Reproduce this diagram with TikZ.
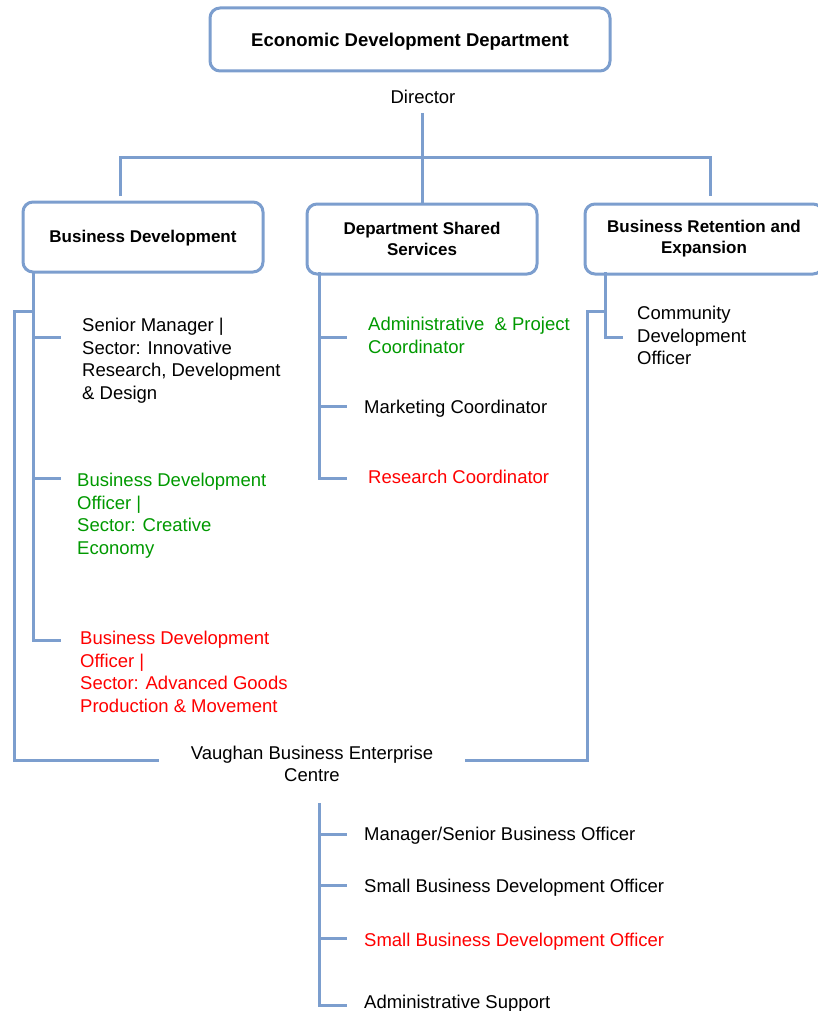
\documentclass[tikz,border=0pt]{standalone}
\usepackage{fontspec}
\setmainfont{Liberation Sans}
\definecolor{lineblue}{RGB}{124,158,206}
\definecolor{postgreen}{RGB}{0,153,0}
\definecolor{postred}{RGB}{255,0,0}
\tikzset{
  orgline/.style={draw=lineblue, line width=3pt},
  unitbox/.style={draw=lineblue, line width=3pt, rounded corners=10pt, fill=white,
    align=center, font=\fontsize{17}{21}\selectfont\bfseries},
  post/.style={anchor=north west, align=left, inner sep=0pt,
    font=\fontsize{18.5}{22.6}\selectfont}
}
\begin{document}
\begin{tikzpicture}[x=1pt, y=-1pt]
\useasboundingbox (0,0) rectangle (818,1011);

%Department and Director
\node [unitbox, font=\fontsize{18.5}{21}\selectfont\bfseries, minimum width=400pt, minimum height=63pt, text height=18pt] (edd) at (410,39.5) {Economic Development Department};
\node [post, anchor=center] (dir) at (423,97) {Director};
\coordinate (dirfoot) at (422,113);
\coordinate (bus) at (422,158);

%Branch boxes
\node [unitbox, minimum width=240pt, minimum height=70pt, text depth=2pt] (bd) at (143,237) {Business Development};
\node [unitbox, minimum width=230pt, minimum height=70pt] (dss) at (422,239) {Department Shared\\Services};
\node [unitbox, minimum width=238pt, minimum height=70pt] (bre) at (704,239) {Business Retention and\\Expansion};
\coordinate (bdtop) at (120,196);
\coordinate (bretop) at (710,196);

\draw [orgline] (dirfoot) -- (dss.north);
\draw [orgline] (bdtop) -- (bdtop |- bus) -- (bretop |- bus) -- (bretop);

%Business Development posts
\node [post] (srm) at (82,318) {Senior Manager |\\Sector: Innovative\\Research, Development\\\& Design};
\node [post, text=postgreen] (bdo1) at (77,473) {Business Development\\Officer |\\Sector: Creative\\Economy};
\node [post, text=postred] (bdo2) at (80,631) {Business Development\\Officer |\\Sector: Advanced Goods\\Production \& Movement};
\coordinate (bdstem) at (33,272);
\coordinate (bdjoin) at (14,311);
\foreach \n/\y in {a/337,b/478,c/640}
  \coordinate (bdtick\n) at (61,\y);
\draw [orgline] (bdstem) |- (bdtickc);
\foreach \n in {a,b}
  \draw [orgline] (bdstem |- bdtick\n) -- (bdtick\n);

%Shared Services posts
\node [post, text=postgreen] (apc) at (368,317) {Administrative \ \& Project\\Coordinator};
\node [post] (mkc) at (364,400) {Marketing Coordinator};
\node [post, text=postred] (rsc) at (368,470) {Research Coordinator};
\coordinate (dssstem) at (319,272);
\foreach \n/\y in {a/337,b/406,c/478}
  \coordinate (dsstick\n) at (347,\y);
\draw [orgline] (dssstem) |- (dsstickc);
\foreach \n in {a,b}
  \draw [orgline] (dssstem |- dsstick\n) -- (dsstick\n);

%Retention and Expansion posts
\node [post] (cdo) at (637,306) {Community\\Development\\Officer};
\coordinate (brestem) at (605,272);
\coordinate (brejoin) at (587,311);
\coordinate (bretick) at (623,337);
\draw [orgline] (brestem) |- (bretick);

%Enterprise Centre
\node [post, anchor=center, align=center, inner xsep=32pt] (vbec) at (312,764) {Vaughan Business Enterprise\\Centre};
\draw [orgline] (bdstem |- bdjoin) -- (bdjoin) |- ([yshift=4pt]vbec.west);
\draw [orgline] (brestem |- brejoin) -- (brejoin) |- ([yshift=4pt]vbec.east);

\node [post] (msbo) at (364,827) {Manager/Senior Business Officer};
\node [post] (sbdo1) at (364,879) {Small Business Development Officer};
\node [post, text=postred] (sbdo2) at (364,933) {Small Business Development Officer};
\node [post] (adms) at (364,995) {Administrative Support};
\coordinate (vbecstem) at (319,803);
\foreach \n/\y in {a/834,b/885,c/938,d/1005}
  \coordinate (vbectick\n) at (347,\y);
\draw [orgline] (vbecstem) |- (vbectickd);
\foreach \n in {a,b,c}
  \draw [orgline] (vbecstem |- vbectick\n) -- (vbectick\n);

\end{tikzpicture}
\end{document}
